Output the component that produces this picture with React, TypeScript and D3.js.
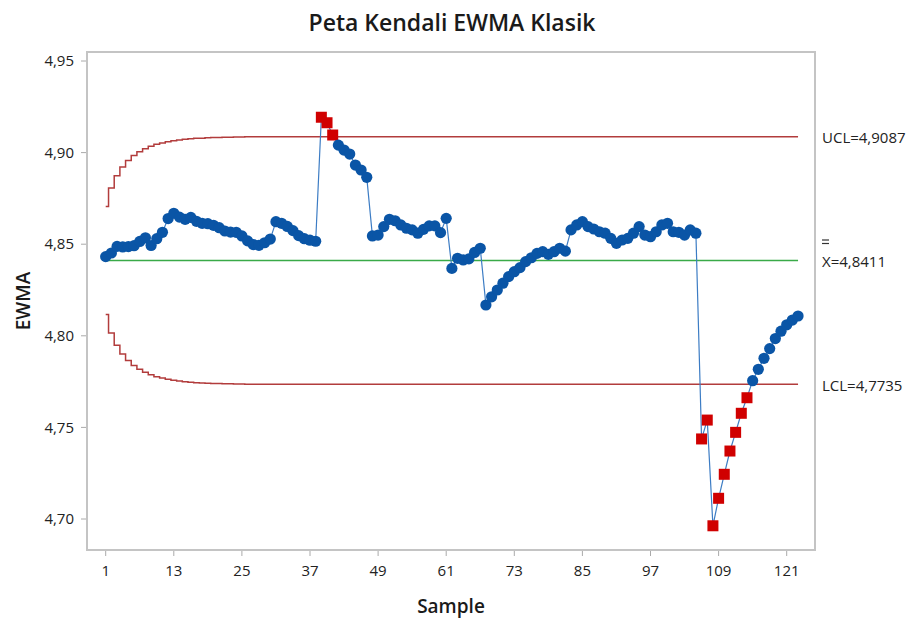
import React from 'react';
import * as d3 from 'd3';

// EWMA values, samples 1..123
const ewma = [
  4.8432, 4.8452, 4.8488, 4.8485, 4.8487, 4.8492, 4.8515, 4.8535, 4.8493, 4.8530,
  4.8565, 4.8640, 4.8669, 4.8648, 4.8636, 4.8646, 4.8625, 4.8614, 4.8612, 4.8603,
  4.8590, 4.8572, 4.8566, 4.8565, 4.8545, 4.8518, 4.8498, 4.8494, 4.8508, 4.8528,
  4.8623, 4.8614, 4.8597, 4.8574, 4.8547, 4.8530, 4.8522, 4.8516, 4.9193, 4.9163,
  4.9096, 4.9041, 4.9014, 4.8992, 4.8932, 4.8905, 4.8865, 4.8545, 4.8550, 4.8596,
  4.8636, 4.8628, 4.8605, 4.8587, 4.8578, 4.8560, 4.8581, 4.8600, 4.8600, 4.8563,
  4.8641, 4.8368, 4.8423, 4.8414, 4.8420, 4.8455, 4.8478, 4.8168, 4.8213, 4.8250,
  4.8287, 4.8323, 4.8350, 4.8372, 4.8405, 4.8426, 4.8450, 4.8459, 4.8445, 4.8459,
  4.8478, 4.8462, 4.8578, 4.8605, 4.8623, 4.8596, 4.8583, 4.8568, 4.8560, 4.8532,
  4.8505, 4.8523, 4.8532, 4.8560, 4.8596, 4.8550, 4.8541, 4.8568, 4.8605, 4.8614,
  4.8568, 4.8565, 4.8550, 4.8578, 4.8560, 4.7437, 4.7540, 4.6963, 4.7113, 4.7244,
  4.7371, 4.7473, 4.7577, 4.7662, 4.7755, 4.7817, 4.7877, 4.7930, 4.7985, 4.8025,
  4.8060, 4.8086, 4.8108,
];

// stepped control limits at the start of the chart
const uclSteps = [
  4.8706, 4.8807, 4.8874, 4.8921, 4.8957, 4.8984, 4.9005, 4.9021, 4.9034, 4.9045,
  4.9053, 4.9059, 4.9065, 4.9069, 4.9073, 4.9075, 4.9078, 4.9079, 4.9081, 4.9082,
  4.9083, 4.9084, 4.9084, 4.9085, 4.9085, 4.9086, 4.9086, 4.9086,
];
const lclSteps = [
  4.8116, 4.8015, 4.7948, 4.7901, 4.7865, 4.7838, 4.7817, 4.7801, 4.7788, 4.7777,
  4.7769, 4.7763, 4.7757, 4.7753, 4.7749, 4.7747, 4.7744, 4.7743, 4.7741, 4.7740,
  4.7739, 4.7738, 4.7738, 4.7737, 4.7737, 4.7736, 4.7736, 4.7736,
];

const UCL = 4.9087;
const CL = 4.8411;
const LCL = 4.7735;

const xTicks = [1, 13, 25, 37, 49, 61, 73, 85, 97, 109, 121];
const yTicks = [4.7, 4.75, 4.8, 4.85, 4.9, 4.95];

const W = 911;
const H = 619;
const frame = { left: 87, right: 815, top: 52, bottom: 550 };
const font = '"Open Sans", "Noto Sans", sans-serif';

const fmt = (v: number) => v.toFixed(2).replace('.', ',');

export default function App() {
  const x = d3.scaleLinear().domain([1, 121]).range([105.7, 786.7]);
  const y = d3.scaleLinear().domain([4.7, 4.95]).range([519, 61]);

  const n = ewma.length;
  const limitAt = (steps: number[], last: number, i: number) => (i < steps.length ? steps[i] : last);

  const stepLine = d3
    .line<number>()
    .x((_, i) => x(i + 1))
    .y((d) => y(d))
    .curve(d3.curveStep);

  const uclPts = ewma.map((_, i) => limitAt(uclSteps, UCL, i));
  const lclPts = ewma.map((_, i) => limitAt(lclSteps, LCL, i));

  const dataLine = d3
    .line<number>()
    .x((_, i) => x(i + 1))
    .y((d) => y(d));

  const limitColor = '#b23c3c';

  return (
    <div style={{ position: 'fixed', left: 0, top: 0 }}>
      <svg width={W} height={H} style={{ display: 'block', background: '#fff', fontFamily: font }}>
        <text x={452} y={31} textAnchor="middle" fontSize={23} fontWeight={600} fill="#1a1a1a">
          Peta Kendali EWMA Klasik
        </text>

        {/* frame */}
        <rect
          x={frame.left}
          y={frame.top}
          width={frame.right - frame.left}
          height={frame.bottom - frame.top}
          fill="none"
          stroke="#c4c4c4"
          strokeWidth={2}
        />

        {/* y axis */}
        {yTicks.map((t) => (
          <g key={t}>
            <line x1={frame.left - 6} x2={frame.left - 1} y1={y(t)} y2={y(t)} stroke="#aaa" />
            <text x={frame.left - 13} y={y(t)} dy="0.35em" textAnchor="end" fontSize={15} fill="#222">
              {fmt(t)}
            </text>
          </g>
        ))}
        <text
          transform={`translate(23,${(frame.top + frame.bottom) / 2}) rotate(-90)`}
          textAnchor="middle"
          dy="0.35em"
          fontSize={19}
          fontWeight={600}
          fill="#1a1a1a"
        >
          EWMA
        </text>

        {/* x axis */}
        {xTicks.map((t) => (
          <g key={t}>
            <line x1={x(t)} x2={x(t)} y1={frame.bottom + 1} y2={frame.bottom + 6} stroke="#aaa" />
            <text x={x(t)} y={frame.bottom + 21} dy="0.35em" textAnchor="middle" fontSize={15} fill="#222">
              {t}
            </text>
          </g>
        ))}
        <text x={(frame.left + frame.right) / 2} y={606} dy="0.35em" textAnchor="middle" fontSize={19} fontWeight={600} fill="#1a1a1a">
          Sample
        </text>

        {/* limits */}
        <path d={stepLine(uclPts) || ''} fill="none" stroke={limitColor} strokeWidth={1.5} />
        <path d={stepLine(lclPts) || ''} fill="none" stroke={limitColor} strokeWidth={1.5} />
        <line x1={x(1)} x2={x(n)} y1={y(CL)} y2={y(CL)} stroke="#3aaa48" strokeWidth={1.5} />

        {/* data */}
        <path d={dataLine(ewma) || ''} fill="none" stroke="#3c7cc4" strokeWidth={1.2} />
        {ewma.map((v, i) => {
          const out = v > UCL || v < LCL;
          const cx = x(i + 1);
          const cy = y(v);
          return out ? (
            <rect key={i} x={cx - 5.5} y={cy - 5.5} width={11} height={11} fill="#d00000" />
          ) : (
            <circle key={i} cx={cx} cy={cy} r={5.6} fill="#0a55a6" />
          );
        })}

        {/* right labels */}
        <g fontSize={15} fill="#222">
          <text x={822} y={y(UCL) + 1.5} dy="0.35em">UCL=4,9087</text>
          <line x1={822} x2={829} y1={240} y2={240} stroke="#333" strokeWidth={1.2} />
          <line x1={822} x2={829} y1={243.5} y2={243.5} stroke="#333" strokeWidth={1.2} />
          <text x={822} y={261.5} dy="0.35em">X=4,8411</text>
          <text x={822} y={y(LCL) + 1.5} dy="0.35em">LCL=4,7735</text>
        </g>
      </svg>
    </div>
  );
}
